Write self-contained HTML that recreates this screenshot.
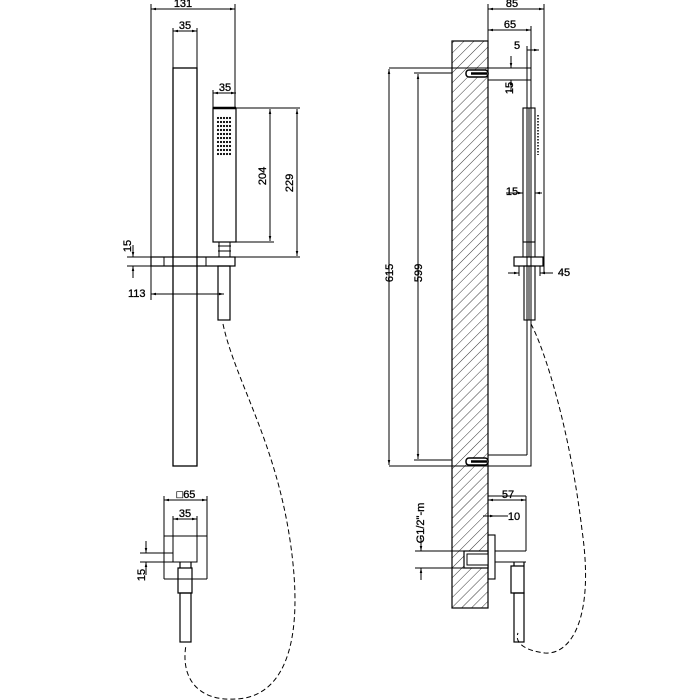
<!DOCTYPE html>
<html><head><style>html,body{margin:0;padding:0;background:#fff}svg{display:block}text{font-family:"Liberation Sans",sans-serif;font-size:11px;fill:#000;stroke:#000;stroke-width:0.3}</style></head>
<body>
<svg width="700" height="700" viewBox="0 0 700 700" xmlns="http://www.w3.org/2000/svg">
<defs>
<pattern id="h" width="7" height="7" patternUnits="userSpaceOnUse" patternTransform="rotate(45)">
<line x1="0" y1="0" x2="0" y2="7" stroke="#222" stroke-width="0.9"/></pattern>
<marker id="a" viewBox="0 0 6 6" refX="6" refY="3" markerWidth="5" markerHeight="5" orient="auto-start-reverse"><path d="M0,1.5 L6,3 L0,4.5z" fill="#000"/></marker>
</defs>
<g fill="none" stroke="#000" stroke-width="1">
<line x1="151" y1="4" x2="151" y2="300"/><line x1="235" y1="4" x2="235" y2="108"/>
<line x1="151" y1="9" x2="235" y2="9" marker-start="url(#a)" marker-end="url(#a)"/>
<line x1="173" y1="28" x2="173" y2="68"/><line x1="197" y1="28" x2="197" y2="68"/>
<line x1="173" y1="31" x2="197" y2="31" marker-start="url(#a)" marker-end="url(#a)"/>
<rect x="173" y="68" width="24" height="398" stroke-width="1.3"/>
<line x1="213" y1="90" x2="213" y2="108"/>
<line x1="213" y1="93" x2="236" y2="93" marker-start="url(#a)" marker-end="url(#a)"/>
<rect x="213" y="108" width="23" height="134" stroke-width="1.2"/>
<line x1="213" y1="108" x2="236" y2="108" stroke-width="2.5"/>
<line x1="236" y1="108" x2="300" y2="108"/>
<line x1="236" y1="242" x2="274" y2="242"/>
<line x1="232" y1="257" x2="300" y2="257"/>
<line x1="270" y1="109" x2="270" y2="241" marker-start="url(#a)" marker-end="url(#a)"/>
<line x1="297" y1="109" x2="297" y2="256" marker-start="url(#a)" marker-end="url(#a)"/>
<path d="M219,242 h11 v15 h-11z M218,246 h13 M218,251 h13"/>
<rect x="151" y="257" width="84" height="9" stroke-width="1.2"/>
<line x1="164" y1="257" x2="164" y2="266"/><line x1="206" y1="257" x2="206" y2="266"/>
<line x1="127" y1="257" x2="151" y2="257"/><line x1="127" y1="266" x2="151" y2="266"/>
<line x1="133" y1="245" x2="133" y2="257" marker-end="url(#a)"/><line x1="133" y1="278" x2="133" y2="266" marker-end="url(#a)"/>
<rect x="218" y="266" width="12" height="54" stroke-width="1.2"/>
<line x1="151" y1="294" x2="224" y2="294" marker-start="url(#a)" marker-end="url(#a)"/>
<path d="M223,324 C235,380 275,440 290,540 C305,640 285,690 245,698 C200,705 180,680 186,645" stroke-dasharray="5,3"/>
<line x1="164" y1="496" x2="164" y2="579"/><line x1="207" y1="496" x2="207" y2="579"/>
<line x1="164" y1="579" x2="207" y2="579"/><line x1="164" y1="536" x2="207" y2="536"/>
<line x1="164" y1="500" x2="207" y2="500" marker-start="url(#a)" marker-end="url(#a)"/>
<path d="M173,516 V562 H197 V516"/>
<line x1="173" y1="519" x2="197" y2="519" marker-start="url(#a)" marker-end="url(#a)"/>
<line x1="140" y1="553" x2="173" y2="553"/><line x1="140" y1="562" x2="173" y2="562"/>
<line x1="146" y1="541" x2="146" y2="553" marker-end="url(#a)"/><line x1="146" y1="575" x2="146" y2="562" marker-end="url(#a)"/>
<path d="M180,562 v6 h11 v-6 M178,568 h14 v25 h-14z" stroke-width="1.2"/>
<rect x="180" y="593" width="11" height="49" stroke-width="1.2"/>
<rect x="452" y="41" width="36" height="567" fill="url(#h)" stroke-width="1.2"/>
<line x1="488" y1="4" x2="488" y2="41"/><line x1="544" y1="4" x2="544" y2="272"/>
<line x1="488" y1="9" x2="544" y2="9" marker-start="url(#a)" marker-end="url(#a)"/>
<line x1="531" y1="26" x2="531" y2="68"/>
<line x1="488" y1="30" x2="531" y2="30" marker-start="url(#a)" marker-end="url(#a)"/>
<line x1="527" y1="50" x2="539" y2="50" marker-end="url(#a)"/>
<line x1="527" y1="46" x2="527" y2="108"/>
<path d="M488,68 H531 V466 H488 M488,80 H531 M488,455 H527"/>
<line x1="527" y1="80" x2="527" y2="455"/>
<line x1="389" y1="68" x2="488" y2="68"/><line x1="389" y1="466" x2="488" y2="466"/>
<line x1="414" y1="73" x2="452" y2="73"/><line x1="414" y1="460" x2="452" y2="460"/>
<line x1="389" y1="69" x2="389" y2="465" marker-start="url(#a)" marker-end="url(#a)"/>
<line x1="418" y1="74" x2="418" y2="459" marker-start="url(#a)" marker-end="url(#a)"/>
<rect x="466" y="70" width="22" height="7" rx="3" stroke-width="1.5" fill="#fff"/>
<rect x="466" y="458" width="22" height="7" rx="3" stroke-width="1.5" fill="#fff"/>
<line x1="471" y1="73.5" x2="487" y2="73.5" stroke-width="2.5"/>
<line x1="471" y1="461.5" x2="487" y2="461.5" stroke-width="2.5"/>
<line x1="511" y1="56" x2="511" y2="68" marker-end="url(#a)"/><line x1="511" y1="92" x2="511" y2="80" marker-end="url(#a)"/>
<rect x="523" y="108" width="12" height="134" stroke-width="1.1"/>
<line x1="529" y1="108" x2="529" y2="257"/>
<line x1="538" y1="115" x2="538" y2="155" stroke-dasharray="1.5,1.5" stroke-width="1.5"/>
<line x1="506" y1="193" x2="523" y2="193" marker-end="url(#a)"/><line x1="542" y1="193" x2="535" y2="193" marker-end="url(#a)"/>
<path d="M523,242 h12 v15 h-12z M529,242 v15"/>
<rect x="514" y="257" width="29" height="9" stroke-width="1.2"/>
<line x1="508" y1="273" x2="519" y2="273" marker-end="url(#a)"/><line x1="553" y1="273" x2="540" y2="273" marker-end="url(#a)"/>
<line x1="519" y1="266" x2="519" y2="276"/><line x1="540" y1="266" x2="540" y2="276"/>
<rect x="524" y="266" width="11" height="54" stroke-width="1.1"/>
<line x1="529" y1="266" x2="529" y2="320"/>
<path d="M531,324 C545,350 570,430 582,530 C595,620 570,655 545,653 C520,650 515,640 518,633" stroke-dasharray="5,3"/>
<rect x="488" y="535" width="7" height="44" stroke-width="1.1"/>
<path d="M495,551 H526 M495,562 H526"/>
<rect x="464" y="551" width="24" height="17" fill="#fff" stroke-width="1.2"/>
<rect x="467" y="554" width="21" height="11" fill="#fff"/>
<line x1="488" y1="496" x2="526" y2="496"/><line x1="526" y1="496" x2="526" y2="551"/>
<line x1="488" y1="500" x2="526" y2="500" marker-start="url(#a)" marker-end="url(#a)"/>
<line x1="483" y1="516" x2="495" y2="516" marker-end="url(#a)"/><line x1="495" y1="516" x2="508" y2="516"/>
<line x1="415" y1="551" x2="464" y2="551"/><line x1="415" y1="568" x2="464" y2="568"/>
<line x1="421" y1="538" x2="421" y2="551" marker-end="url(#a)"/><line x1="421" y1="580" x2="421" y2="568" marker-end="url(#a)"/>
<path d="M514,562 v4 h10 v-4 M511,566 h13 v27 h-13z" stroke-width="1.2"/>
<rect x="514" y="593" width="10" height="49" stroke-width="1.2"/>
</g>
<g fill="#000">
<circle cx="218" cy="118" r="1.1"/><circle cx="221" cy="118" r="1.1"/><circle cx="224" cy="118" r="1.1"/><circle cx="227" cy="118" r="1.1"/><circle cx="230" cy="118" r="1.1"/>
<circle cx="218" cy="122" r="1.1"/><circle cx="221" cy="122" r="1.1"/><circle cx="224" cy="122" r="1.1"/><circle cx="227" cy="122" r="1.1"/><circle cx="230" cy="122" r="1.1"/>
<circle cx="218" cy="126" r="1.1"/><circle cx="221" cy="126" r="1.1"/><circle cx="224" cy="126" r="1.1"/><circle cx="227" cy="126" r="1.1"/><circle cx="230" cy="126" r="1.1"/>
<circle cx="218" cy="130" r="1.1"/><circle cx="221" cy="130" r="1.1"/><circle cx="224" cy="130" r="1.1"/><circle cx="227" cy="130" r="1.1"/><circle cx="230" cy="130" r="1.1"/>
<circle cx="218" cy="134" r="1.1"/><circle cx="221" cy="134" r="1.1"/><circle cx="224" cy="134" r="1.1"/><circle cx="227" cy="134" r="1.1"/><circle cx="230" cy="134" r="1.1"/>
<circle cx="218" cy="138" r="1.1"/><circle cx="221" cy="138" r="1.1"/><circle cx="224" cy="138" r="1.1"/><circle cx="227" cy="138" r="1.1"/><circle cx="230" cy="138" r="1.1"/>
<circle cx="218" cy="142" r="1.1"/><circle cx="221" cy="142" r="1.1"/><circle cx="224" cy="142" r="1.1"/><circle cx="227" cy="142" r="1.1"/><circle cx="230" cy="142" r="1.1"/>
<circle cx="218" cy="146" r="1.1"/><circle cx="221" cy="146" r="1.1"/><circle cx="224" cy="146" r="1.1"/><circle cx="227" cy="146" r="1.1"/><circle cx="230" cy="146" r="1.1"/>
<circle cx="218" cy="150" r="1.1"/><circle cx="221" cy="150" r="1.1"/><circle cx="224" cy="150" r="1.1"/><circle cx="227" cy="150" r="1.1"/><circle cx="230" cy="150" r="1.1"/>
<circle cx="218" cy="154" r="1.1"/><circle cx="221" cy="154" r="1.1"/><circle cx="224" cy="154" r="1.1"/><circle cx="227" cy="154" r="1.1"/><circle cx="230" cy="154" r="1.1"/>
</g>
<text x="183" y="7" text-anchor="middle">131</text>
<text x="185" y="29" text-anchor="middle">35</text>
<text x="225" y="91" text-anchor="middle">35</text>
<text transform="translate(266,176) rotate(-90)" text-anchor="middle">204</text>
<text transform="translate(293,183) rotate(-90)" text-anchor="middle">229</text>
<text transform="translate(131,246) rotate(-90)" text-anchor="middle" font-size="9">15</text>
<text x="128" y="297">113</text>
<text x="186" y="498" text-anchor="middle">□65</text>
<text x="185" y="517" text-anchor="middle">35</text>
<text transform="translate(145,575) rotate(-90)" text-anchor="middle" font-size="9">15</text>
<text x="512" y="7" text-anchor="middle">85</text>
<text x="510" y="28" text-anchor="middle">65</text>
<text x="517" y="49" text-anchor="middle">5</text>
<text transform="translate(513,88) rotate(-90)" text-anchor="middle" font-size="9">15</text>
<text x="512" y="195" text-anchor="middle" font-size="9">15</text>
<text x="564" y="276" text-anchor="middle">45</text>
<text transform="translate(393,273) rotate(-90)" text-anchor="middle">615</text>
<text transform="translate(422,273) rotate(-90)" text-anchor="middle">599</text>
<text x="508" y="498" text-anchor="middle">57</text>
<text x="514" y="520" text-anchor="middle">10</text>
<text transform="translate(424,523) rotate(-90)" text-anchor="middle" font-size="10">G1/2"-m</text>
</svg>
</body></html>
